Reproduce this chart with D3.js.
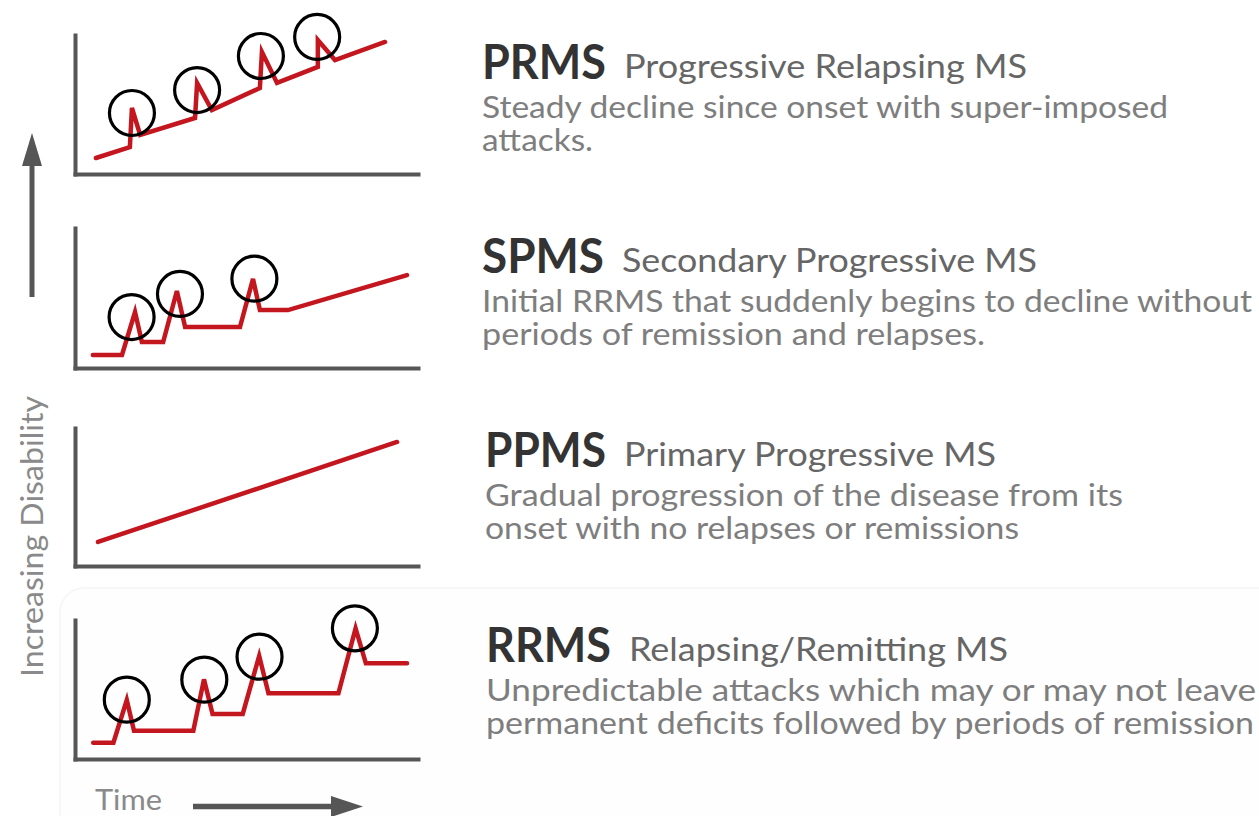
<!DOCTYPE html>
<html>
<head>
<meta charset="utf-8">
<script src="https://cdn.jsdelivr.net/npm/d3@7"></script>
<style>
  body { margin: 0; background: #fff; }
  svg { display: block; font-family: "Lato", "Open Sans", sans-serif; }
</style>
</head>
<body>
<div id="viz"></div>
<script>
/*##############################
#   Data  #
###############################*/

// course types, top to bottom
var codes = ["PRMS", "SPMS", "PPMS", "RRMS"];
var names = ["Progressive Relapsing MS", "Secondary Progressive MS", "Primary Progressive MS", "Relapsing/Remitting MS"];
var descLine1 = [
    "Steady decline since onset with super-imposed",
    "Initial RRMS that suddenly begins to decline without",
    "Gradual progression of the disease from its",
    "Unpredictable attacks which may or may not leave"
];
var descLine2 = [
    "attacks.",
    "periods of remission and relapses.",
    "onset with no relapses or remissions",
    "permanent deficits followed by periods of remission"
];

// disability course, time 0-100 / disability 0-100
var prmsTime = [6.1, 16.0, 16.6, 19.0, 35.0, 35.6, 39.9, 53.9, 54.5, 58.9, 70.8, 70.8, 75.8, 90.4];
var prmsDis  = [11.5, 19.4, 47.5, 28.1, 40.3, 65.5, 46.0, 61.9, 87.8, 65.5, 77.0, 96.4, 82.0, 95.0];
var spmsTime = [5.2, 13.7, 17.5, 19.5, 25.7, 29.7, 32.1, 48.1, 51.9, 53.9, 62.1, 96.8];
var spmsDis  = [9.3, 9.3, 40.0, 18.6, 18.6, 55.0, 29.3, 29.3, 63.6, 41.4, 41.4, 66.4];
var ppmsTime = [6.7, 93.9];
var ppmsDis  = [17.4, 89.9];
var rrmsTime = [5.3, 11.2, 15.1, 17.2, 34.5, 37.6, 40.1, 48.9, 53.7, 56.4, 76.8, 81.8, 84.8, 96.8];
var rrmsDis  = [11.7, 11.7, 42.4, 20.4, 20.4, 57.3, 32.4, 32.4, 74.1, 47.3, 47.3, 94.0, 68.8, 68.8];

// relapse markers (circled attacks)
var prmsAttackTime = [16.6, 35.6, 54.2, 70.6];
var prmsAttackDis  = [43.9, 60.4, 84.9, 98.6];
var spmsAttackTime = [16.5, 30.6, 52.3];
var spmsAttackDis  = [36.4, 52.9, 63.8];
var ppmsAttackTime = [];
var ppmsAttackDis  = [];
var rrmsAttackTime = [15.1, 37.7, 53.8, 81.6];
var rrmsAttackDis  = [42.7, 57.1, 73.6, 94.0];

var courseTime = [prmsTime, spmsTime, ppmsTime, rrmsTime];
var courseDis = [prmsDis, spmsDis, ppmsDis, rrmsDis];
var attackTime = [prmsAttackTime, spmsAttackTime, ppmsAttackTime, rrmsAttackTime];
var attackDis = [prmsAttackDis, spmsAttackDis, ppmsAttackDis, rrmsAttackDis];

/*##############################
#       Layout                 #
###############################*/
var W = 1259, H = 816;
var plotTop = [35, 228, 428, 620],
    plotBottom = [174, 368, 566, 759],
    plotLeft = 75, plotRight = 418;
var textBase = [79, 273, 467, 662];
var textX = [482, 482, 485, 486];
// widths measured on the picture
var codeW = [124, 122, 121, 125];
var nameW = [403, 415, 372, 379];
var d1W = [686, 770, 638, 770];
var d2W = [111, 503, 534, 768];

var red = "#c3161f", axisGrey = "#565656";

var svg = d3.select("#viz").append("svg")
    .attr("width", W)
    .attr("height", H);

// faint card behind the RRMS row
svg.append("rect")
    .attr("x", 60).attr("y", 588)
    .attr("width", 1230).attr("height", 260)
    .attr("rx", 24)
    .attr("fill", "#fefefe")
    .attr("stroke", "#f5f5f5")
    .attr("stroke-width", 1.5);

var x = d3.scaleLinear().domain([0, 100]).range([plotLeft, plotRight]);

codes.forEach(function(code, i) {

    var y = d3.scaleLinear().domain([0, 100]).range([plotBottom[i], plotTop[i]]);
    var g = svg.append("g").attr("class", "panel");

    // axes, no ticks
    g.append("g")
        .attr("transform", "translate(0," + plotBottom[i] + ")")
        .call(d3.axisBottom(x).tickValues([]).tickSizeOuter(0));
    g.append("g")
        .attr("transform", "translate(" + plotLeft + ",0)")
        .call(d3.axisLeft(y).tickValues([]).tickSizeOuter(0));
    g.selectAll(".domain")
        .attr("stroke", axisGrey)
        .attr("stroke-width", 4)
        .attr("stroke-linecap", "square");

    // disease course
    var pts = courseTime[i].map(function(t, k) { return [t, courseDis[i][k]]; });
    var line = d3.line()
        .x(function(d) { return x(d[0]); })
        .y(function(d) { return y(d[1]); });
    g.append("path")
        .datum(pts)
        .attr("d", line)
        .attr("fill", "none")
        .attr("stroke", red)
        .attr("stroke-width", 4.5)
        .attr("stroke-linejoin", "miter")
        .attr("stroke-linecap", "round");

    // circled attacks
    var att = attackTime[i].map(function(t, k) { return [t, attackDis[i][k]]; });
    g.selectAll("circle.attack")
        .data(att)
        .enter()
        .append("circle")
        .attr("class", "attack")
        .attr("cx", function(d) { return x(d[0]); })
        .attr("cy", function(d) { return y(d[1]); })
        .attr("r", 22.5)
        .attr("fill", "none")
        .attr("stroke", "#000")
        .attr("stroke-width", 3.2);

    // labels on the right
    g.append("text")
        .attr("x", textX[i]).attr("y", textBase[i])
        .attr("font-size", 47).attr("font-weight", 700)
        .attr("fill", "#333")
        .attr("textLength", codeW[i]).attr("lengthAdjust", "spacingAndGlyphs")
        .text(code);
    g.append("text")
        .attr("x", textX[i] + codeW[i] + 18).attr("y", textBase[i] - 1)
        .attr("font-size", 33)
        .attr("fill", "#666")
        .attr("textLength", nameW[i]).attr("lengthAdjust", "spacingAndGlyphs")
        .text(names[i]);
    g.append("text")
        .attr("x", textX[i]).attr("y", textBase[i] + 39)
        .attr("font-size", 30)
        .attr("fill", "#7e7e7e")
        .attr("textLength", d1W[i]).attr("lengthAdjust", "spacingAndGlyphs")
        .text(descLine1[i]);
    g.append("text")
        .attr("x", textX[i]).attr("y", textBase[i] + 72)
        .attr("font-size", 30)
        .attr("fill", "#7e7e7e")
        .attr("textLength", d2W[i]).attr("lengthAdjust", "spacingAndGlyphs")
        .text(descLine2[i]);
});

// Increasing Disability arrow + label
svg.append("line")
    .attr("x1", 32).attr("y1", 297).attr("x2", 32).attr("y2", 160)
    .attr("stroke", axisGrey).attr("stroke-width", 5);
svg.append("path")
    .attr("d", "M32,133 L22,166 L42,166 Z")
    .attr("fill", axisGrey);
svg.append("text")
    .attr("transform", "translate(43,677) rotate(-90)")
    .attr("font-size", 31)
    .attr("fill", "#8a8a8a")
    .attr("textLength", 281).attr("lengthAdjust", "spacingAndGlyphs")
    .text("Increasing Disability");

// Time arrow + label
svg.append("text")
    .attr("x", 95).attr("y", 810)
    .attr("font-size", 28)
    .attr("fill", "#8a8a8a")
    .attr("textLength", 67).attr("lengthAdjust", "spacingAndGlyphs")
    .text("Time");
svg.append("line")
    .attr("x1", 193).attr("y1", 806.5).attr("x2", 336).attr("y2", 806.5)
    .attr("stroke", axisGrey).attr("stroke-width", 5.5);
svg.append("path")
    .attr("d", "M363,806.5 L331,796 L331,817 Z")
    .attr("fill", axisGrey);
</script>
</body>
</html>
